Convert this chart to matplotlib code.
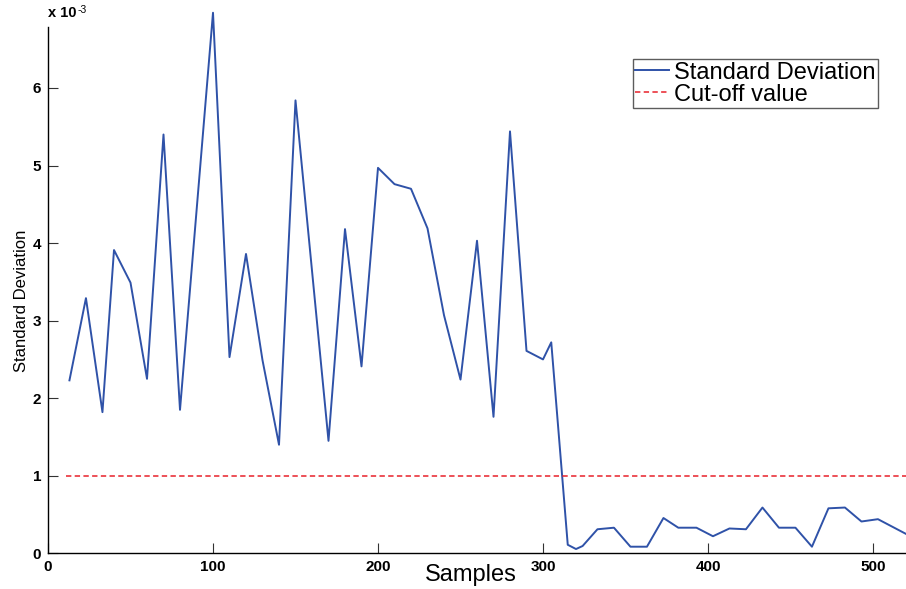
import numpy as np
import matplotlib
matplotlib.use("Agg")
import matplotlib.pyplot as plt

# Standard deviation per sample window (values in units of 1e-3)
sample_pos = [13, 23, 33, 40, 50, 60, 70, 80, 100, 110, 120, 130, 140, 150,
              170, 180, 190, 200, 210, 220, 230, 240, 250, 260, 270, 280,
              290, 300, 305, 315, 320, 324, 333, 343, 353, 363, 373, 382,
              393, 403, 413, 423, 433, 443, 453, 463, 473, 483, 493, 503, 520]
std_dev_e3 = [2.23, 3.29, 1.82, 3.91, 3.49, 2.25, 5.40, 1.85, 6.97, 2.53,
              3.86, 2.49, 1.40, 5.84, 1.45, 4.18, 2.41, 4.97, 4.76, 4.70,
              4.19, 3.07, 2.24, 4.03, 1.76, 5.44, 2.61, 2.50, 2.72, 0.11,
              0.055, 0.094, 0.31, 0.33, 0.085, 0.085, 0.455, 0.33, 0.33,
              0.22, 0.32, 0.31, 0.59, 0.33, 0.33, 0.085, 0.58, 0.59, 0.41,
              0.44, 0.25]
cutoff_x = [11, 520]
cutoff_value = 1e-3

plt.rcParams['font.family'] = ['Liberation Sans', 'DejaVu Sans']

fig = plt.figure(figsize=(9.06, 5.89), dpi=100)
W, H = 906, 589
ax = fig.add_axes([48 / W, (H - 553.3) / H, (W - 48) / W, (553.3 - 26.7) / H])

y = np.array(std_dev_e3) * 1e-3
ax.plot(sample_pos, y, color='#2f52a8', lw=1.4, clip_on=False,
        label='Standard Deviation')
ax.plot(cutoff_x, [cutoff_value, cutoff_value], color='#e8202a', lw=1.1,
        ls=(0, (3.5, 2.2)), label='Cut-off value')

ax.set_xlim(0, 520)
ax.set_ylim(0, 6.79e-3)
ax.set_xticks([0, 100, 200, 300, 400, 500])
ax.set_yticks(np.arange(0, 7) * 1e-3)
ax.set_yticklabels([str(i) for i in range(7)])
for lab in ax.get_xticklabels() + ax.get_yticklabels():
    lab.set_fontweight('bold')
ax.tick_params(direction='in', length=7, width=0.8, color='#333333',
               labelsize=11, pad=5)
for side in ['top', 'right']:
    ax.spines[side].set_visible(False)
for side in ['left', 'bottom']:
    ax.spines[side].set_linewidth(1.0)

ax.text(0, 1.0 + 7 / 526.6, 'x 10', transform=ax.transAxes, fontsize=10.5,
        fontweight='bold', ha='left', va='bottom')
ax.text(30 / 858, 1.0 + 12 / 526.6, '-3', transform=ax.transAxes, fontsize=7.5,
        ha='left', va='bottom')

ax.set_xlabel('Samples', fontsize=17)
ax.xaxis.set_label_coords((471 - 48) / 858, -0.02)
ax.set_ylabel('Standard Deviation', fontsize=12)
ax.yaxis.set_label_coords(-0.022, 0.48)

leg = ax.legend(loc='upper left', bbox_to_anchor=(632.7 / W, 1 - 59.3 / H),
                bbox_transform=fig.transFigure, fontsize=17, frameon=True,
                fancybox=False, edgecolor='#333333', handlelength=1.45,
                handletextpad=0.2, labelspacing=0.0, borderpad=0.1,
                borderaxespad=0)
leg.get_frame().set_linewidth(1.0)

fig.savefig('out.png', dpi=100)
